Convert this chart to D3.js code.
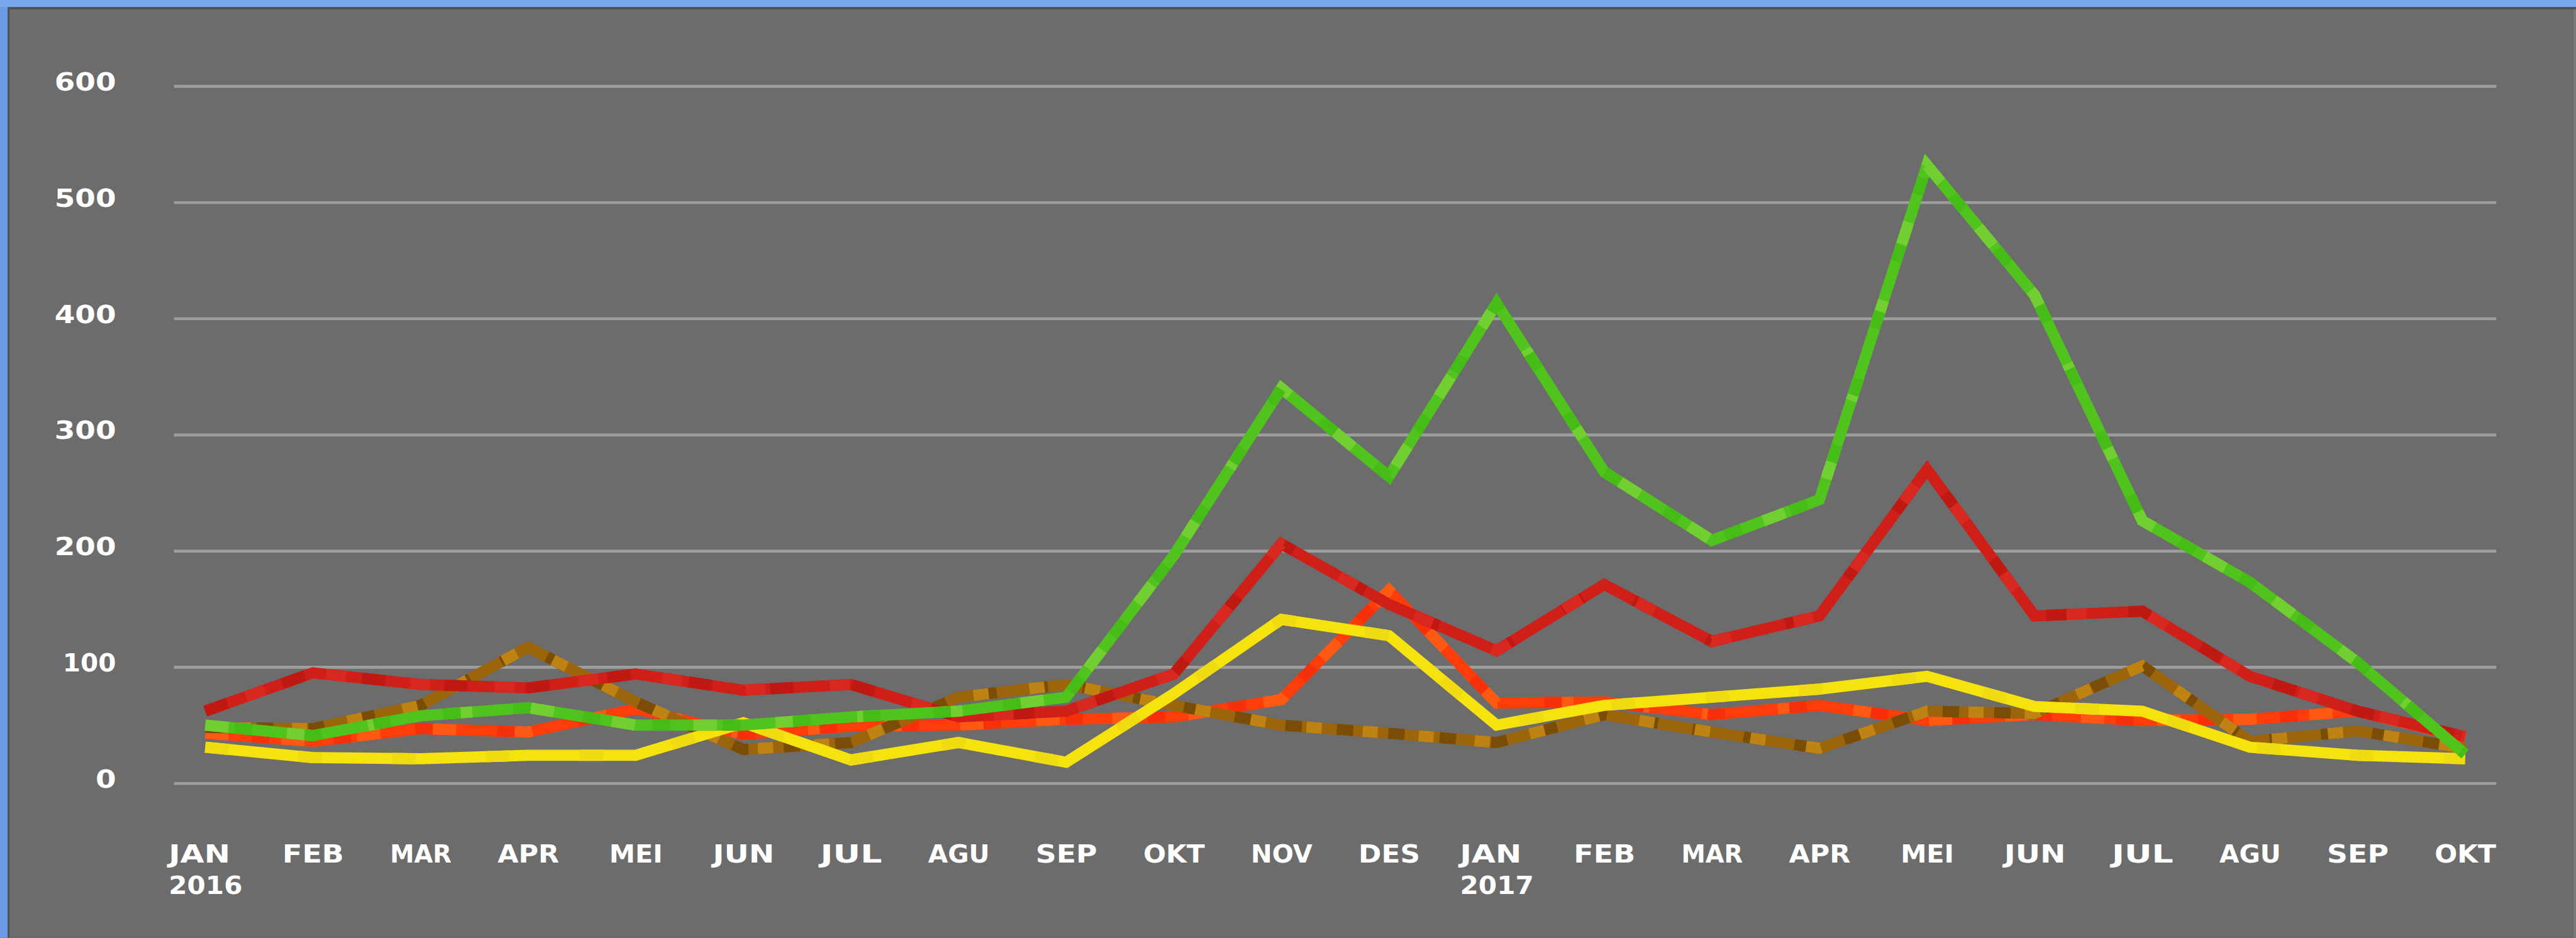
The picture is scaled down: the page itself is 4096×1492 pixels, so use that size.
<!DOCTYPE html>
<html>
<head>
<meta charset="utf-8">
<script src="https://cdn.jsdelivr.net/npm/d3@7"></script>
<style>
  html, body { margin: 0; padding: 0; background: #6c6c6c; overflow: hidden; }
  svg { display: block; }
  text { font-family: "DejaVu Sans", "Liberation Sans", sans-serif; font-weight: 700; fill: #ffffff; }
</style>
</head>
<body>
<svg id="chart"></svg>
<script>
// Monthly categories (Indonesian month abbreviations), Jan 2016 – Oct 2017
const months = ["JAN","FEB","MAR","APR","MEI","JUN","JUL","AGU","SEP","OKT","NOV","DES",
                "JAN","FEB","MAR","APR","MEI","JUN","JUL","AGU","SEP","OKT"];
const years  = ["2016","","","","","","","","","","","",
                "2017","","","","","","","","",""];
const yTicks = [0, 100, 200, 300, 400, 500, 600];

// Series values
const greenValues  = [50, 41, 58, 65, 50, 50, 57, 62, 74, 196, 340, 264, 413, 268, 209, 244, 532, 420, 226, 173, 104, 25];
const redValues    = [62, 95, 85, 82, 94, 80, 85, 57, 62, 94, 206, 154, 114, 171, 122, 144, 270, 144, 148, 92, 62, 40];
const orangeValues = [43, 36, 47, 44, 64, 42, 49, 50, 55, 57, 72, 166, 69, 70, 59, 67, 54, 59, 54, 55, 62, 39];
const brownValues  = [48, 47, 67, 117, 70, 29, 35, 74, 85, 67, 50, 43, 35, 59, 44, 30, 62, 60, 101, 36, 45, 30];
const yellowValues = [31, 22, 21, 24, 24, 52, 20, 35, 18, 77, 141, 127, 50, 67, 74, 81, 92, 66, 62, 31, 24, 21];

// Drawing order: bottom to top; patches give each stroke a mottled look
const series = [
  { values: orangeValues, base: "#ff3d0a", patches: [{ c: "#ff5a14", d: "40 90", o: 0 }, { c: "#f8300a", d: "30 110", o: 60 }] },
  { values: brownValues,  base: "#9c640b", patches: [{ c: "#7a4d07", d: "28 60", o: 0 }, { c: "#bf8314", d: "26 70", o: 44 }] },
  { values: redValues,    base: "#cf1f18", patches: [{ c: "#bf1912", d: "40 100", o: 0 }, { c: "#d92820", d: "34 110", o: 70 }] },
  { values: yellowValues, base: "#f6e20c", patches: [{ c: "#f0da10", d: "40 120", o: 0 }] },
  { values: greenValues,  base: "#50c31d", patches: [{ c: "#72cf32", d: "40 100", o: 0 }, { c: "#46bd17", d: "30 90", o: 70 }] }
];

// Canvas: authored at 4396 x 1601 and scaled to the window
const W0 = 4396, H0 = 1601;
const W = 4096, H = 1492;
const k = W / W0;

const svg = d3.select("#chart").attr("width", W).attr("height", H);
const root = svg.append("g").attr("transform", `scale(${k})`);

// Frame: blue window edge, dark inner rim, grey panel
root.append("rect").attr("x", 0).attr("y", 0).attr("width", W0).attr("height", H0).attr("fill", "#6b9be3");
root.append("rect").attr("x", 0).attr("y", 0).attr("width", W0).attr("height", 12).attr("fill", "#78a8ee");
root.append("rect").attr("x", 13).attr("y", 12).attr("width", W0 - 13).attr("height", H0 - 12).attr("fill", "#4f4f4f");
root.append("rect").attr("x", 16).attr("y", 16).attr("width", W0 - 16).attr("height", H0 - 16).attr("fill", "#6c6c6c");
root.append("rect").attr("x", W0 - 4).attr("y", 16).attr("width", 4).attr("height", H0 - 16).attr("fill", "#7a7a7a");

// Scales
const plotLeft = 297, plotRight = 4260;
const x = d3.scalePoint().domain(d3.range(months.length)).range([plotLeft, plotRight]).padding(0.29);
const y = d3.scaleLinear().domain([0, 600]).range([1337, 147]);

// Approximate advance widths for the blocky label face
const glyphW = ch => (ch === "1" || ch === "I") ? 21 : 35;
const textW = s => Array.from(s).reduce((a, ch) => a + glyphW(ch), 0);

// Horizontal gridlines
const grid = root.append("g").attr("transform", `translate(${plotLeft},0)`)
  .call(d3.axisLeft(y).tickValues(yTicks).tickSize(-(plotRight - plotLeft)).tickFormat(""));
grid.select(".domain").remove();
grid.selectAll(".tick line").attr("stroke", "#9d9d9d").attr("stroke-width", 5);

// Y-axis labels, right-aligned
const yAxis = root.append("g").attr("transform", "translate(198,0)")
  .call(d3.axisLeft(y).tickValues(yTicks).tickSize(0).tickPadding(0));
yAxis.select(".domain").remove();
yAxis.selectAll(".tick text")
  .attr("font-size", 41)
  .attr("text-anchor", "start")
  .attr("dy", null)
  .attr("y", 7)
  .attr("x", d => -textW(String(d)))
  .attr("textLength", d => textW(String(d)))
  .attr("lengthAdjust", "spacingAndGlyphs");

// X-axis category labels (month, with year on a second line)
const xAxis = root.append("g").attr("transform", `translate(0,${y(0)})`)
  .call(d3.axisBottom(x).tickSize(0).tickFormat(""));
xAxis.select(".domain").remove();
xAxis.selectAll(".tick").each(function (i) {
  const lines = [months[i], years[i]].filter(s => s);
  const blockW = d3.max(lines, textW);
  const t = d3.select(this).select("text")
    .attr("font-size", 41).attr("text-anchor", "start").attr("dy", null).attr("y", null);
  lines.forEach((s, j) => {
    t.append("tspan")
      .attr("x", -blockW / 2)
      .attr("y", 136 + j * 53)
      .attr("textLength", textW(s))
      .attr("lengthAdjust", "spacingAndGlyphs")
      .text(s);
  });
});

// Series lines
const line = d3.line().x((d, i) => x(i)).y(d => y(d));
const lines = root.append("g")
  .attr("fill", "none")
  .attr("stroke-linejoin", "miter")
  .attr("stroke-miterlimit", 10)
  .attr("stroke-linecap", "butt");

series.forEach(s => {
  const g = lines.append("g");
  g.append("path").attr("d", line(s.values)).attr("stroke", s.base).attr("stroke-width", 19);
  s.patches.forEach(p => {
    g.append("path").attr("d", line(s.values))
      .attr("stroke", p.c).attr("stroke-width", 19)
      .attr("stroke-dasharray", p.d).attr("stroke-dashoffset", p.o);
  });
});
</script>
</body>
</html>
